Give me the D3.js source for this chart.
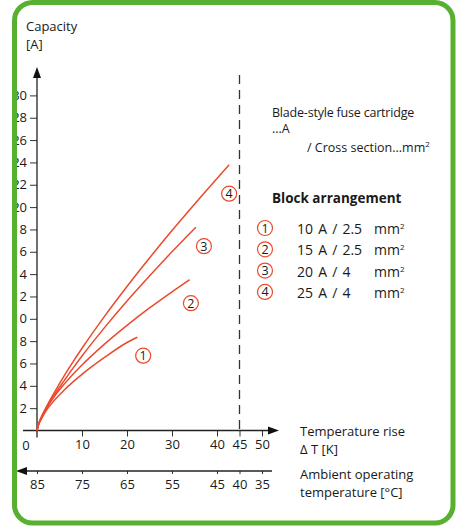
<!DOCTYPE html>
<html><head><meta charset="utf-8">
<script src="https://cdn.jsdelivr.net/npm/d3@7"></script>
<style>body{margin:0;background:#fff}text{font-family:"Open Sans",Lato,sans-serif;fill:#1a1a1a}</style>
</head><body>
<svg id="c" width="462" height="526"></svg>
<script>
// ---- data ----
const seriesNames = ["1", "2", "3", "4"];
const legendLabels = ["10 A / 2.5", "15 A / 2.5", "20 A / 4", "25 A / 4"];
const deltaT1 = [0, 0.3, 1, 2, 4, 6, 8, 10, 15, 20, 22.3];
const amps1   = [0, 0.45, 1.05, 1.77, 2.77, 3.61, 4.35, 5.03, 6.54, 7.88, 8.35];
const deltaT2 = [0, 0.3, 1, 2, 4, 6, 8, 10, 15, 20, 25, 30, 33.9];
const amps2   = [0, 0.48, 1.12, 1.9, 3.13, 4.13, 5.03, 5.86, 7.73, 9.41, 10.97, 12.42, 13.5];
const deltaT3 = [0, 0.3, 1, 2, 4, 6, 8, 10, 15, 20, 25, 30, 35.3];
const amps3   = [0, 0.5, 1.18, 1.97, 3.28, 4.44, 5.58, 6.67, 9.21, 11.59, 13.83, 16.0, 18.2];
const deltaT4 = [0, 0.3, 1, 2, 4, 6, 8, 10, 15, 20, 25, 30, 36, 42.7];
const amps4   = [0, 0.52, 1.24, 2.05, 3.51, 4.87, 6.14, 7.36, 10.22, 12.89, 15.44, 17.9, 20.73, 23.8];
const labelDT   = [23.6, 34.2, 37.1, 42.7];
const labelAmps = [6.7, 11.4, 16.5, 21.2];
const yTicks = [2,4,6,8,10,12,14,16,18,20,22,24,26,28,30];
const xTicks = [0,10,20,30,40,45,50];
const ambientTicks = [85,75,65,55,45,40,35];
const limitDT = 45;

const series = [[deltaT1,amps1],[deltaT2,amps2],[deltaT3,amps3],[deltaT4,amps4]]
  .map(([xs,ys],i)=>({name:seriesNames[i], pts:xs.map((x,j)=>[x,ys[j]])}));

const red = "#ec4a2c", green = "#58b030";
const FS = "13px";
const svg = d3.select("#c");
const x = d3.scaleLinear().domain([0,50]).range([37,262]);
const xa = d3.scaleLinear().domain([85,35]).range([37,262]);
const y = d3.scaleLinear().domain([0,30]).range([430.5,95.4]);
const x0 = x(0), y0 = y(0);

// y axis
const ya = svg.append("g").attr("transform",`translate(${x0},0)`)
  .call(d3.axisLeft(y).tickValues(yTicks).tickSize(7).tickPadding(3));
ya.select(".domain").remove();
ya.selectAll("text").style("font-size",FS).attr("fill","#1a1a1a").style("font-family","Open Sans");
ya.selectAll("line").attr("stroke","#333");
svg.append("line").attr("x1",x0).attr("x2",x0).attr("y1",76).attr("y2",y0+7).attr("stroke","#222").attr("stroke-width",1.3);
svg.append("path").attr("d",`M${x0},67 L${x0-4},78 L${x0+4},78Z`).attr("fill","#111");

// x axis
const xg = svg.append("g").attr("transform",`translate(0,${y0})`)
  .call(d3.axisBottom(x).tickValues(xTicks.filter(d=>d>0)).tickSize(6).tickPadding(3));
xg.select(".domain").remove();
xg.selectAll("text").style("font-size",FS).attr("fill","#1a1a1a").style("font-family","Open Sans");
xg.selectAll("line").attr("stroke","#333");
svg.append("text").attr("x",x0-11).attr("y",y0+19).attr("text-anchor","middle").style("font-size",FS).text(xTicks[0]);
svg.append("line").attr("x1",23).attr("x2",270).attr("y1",y0).attr("y2",y0).attr("stroke","#222").attr("stroke-width",1.3);
svg.append("path").attr("d",`M279,${y0} L268,${y0-4} L268,${y0+4}Z`).attr("fill","#111");

// ambient axis
const ay = 471;
const ag = svg.append("g").attr("transform",`translate(0,${ay})`)
  .call(d3.axisBottom(xa).tickValues(ambientTicks).tickSize(3).tickPadding(6));
ag.select(".domain").remove();
ag.selectAll("text").style("font-size",FS).attr("fill","#1a1a1a").style("font-family","Open Sans");
ag.selectAll("line").attr("stroke","#333");
svg.append("line").attr("x1",25).attr("x2",272).attr("y1",ay).attr("y2",ay).attr("stroke","#222").attr("stroke-width",1.3);
svg.append("path").attr("d",`M16,${ay} L27,${ay-4} L27,${ay+4}Z`).attr("fill","#111");

// dashed limit
svg.append("line").attr("x1",x(limitDT)).attr("x2",x(limitDT)).attr("y1",75).attr("y2",y0)
  .attr("stroke","#333").attr("stroke-width",1.3).attr("stroke-dasharray","9,6");

// curves
const line = d3.line().x(d=>x(d[0])).y(d=>y(d[1])).curve(d3.curveMonotoneX);
svg.selectAll(".curve").data(series).join("path").attr("class","curve")
  .attr("d",d=>line(d.pts)).attr("fill","none").attr("stroke",red).attr("stroke-width",1.5);

// circled labels
function badge(g,cx,cy,t){
  g.append("circle").attr("cx",cx).attr("cy",cy).attr("r",7.5).attr("fill","#fff").attr("stroke",red).attr("stroke-width",1.2);
  g.append("text").attr("x",cx).attr("y",cy+4.5).attr("text-anchor","middle").style("font-size","12.5px").text(t);
}
seriesNames.forEach((n,i)=>badge(svg,x(labelDT[i]),y(labelAmps[i]),n));

// axis titles
const T = (tx,ty,s,sz=13)=>svg.append("text").attr("x",tx).attr("y",ty).style("font-size",sz+"px").text(s);
T(26,31,"Capacity"); T(26,49,"[A]");
T(300,436,"Temperature rise"); T(300,454,"Δ T [K]");
T(300,479,"Ambient operating"); T(300,497,"temperature [°C]");

// legend
T(272,117,"Blade-style fuse cartridge",12.5).attr("letter-spacing","-0.2"); T(272,133,"...A",12.5);
const cs = T(307,152,"/ Cross section...mm",12.5);
cs.append("tspan").attr("dy",-5).style("font-size","8px").text("2");
T(272,203,"Block arrangement",13.5).style("font-weight","bold");
legendLabels.forEach((l,i)=>{
  const cy = 228 + i*21.3;
  badge(svg,265,cy,seriesNames[i]);
  const t = T(297,cy+6,l,14).attr("word-spacing","1.5");
  t.append("tspan").attr("x",374).text("mm");
  t.append("tspan").attr("dy",-5).style("font-size","8px").text("2");
});

// frame
svg.append("rect").attr("x",0).attr("y",0).attr("width",12).attr("height",526).attr("fill","#fff");
svg.append("rect").attr("x",14.5).attr("y",2.5).attr("width",438.5).attr("height",520.5).attr("rx",18)
  .attr("fill","none").attr("stroke",green).attr("stroke-width",5);
</script>
</body></html>
